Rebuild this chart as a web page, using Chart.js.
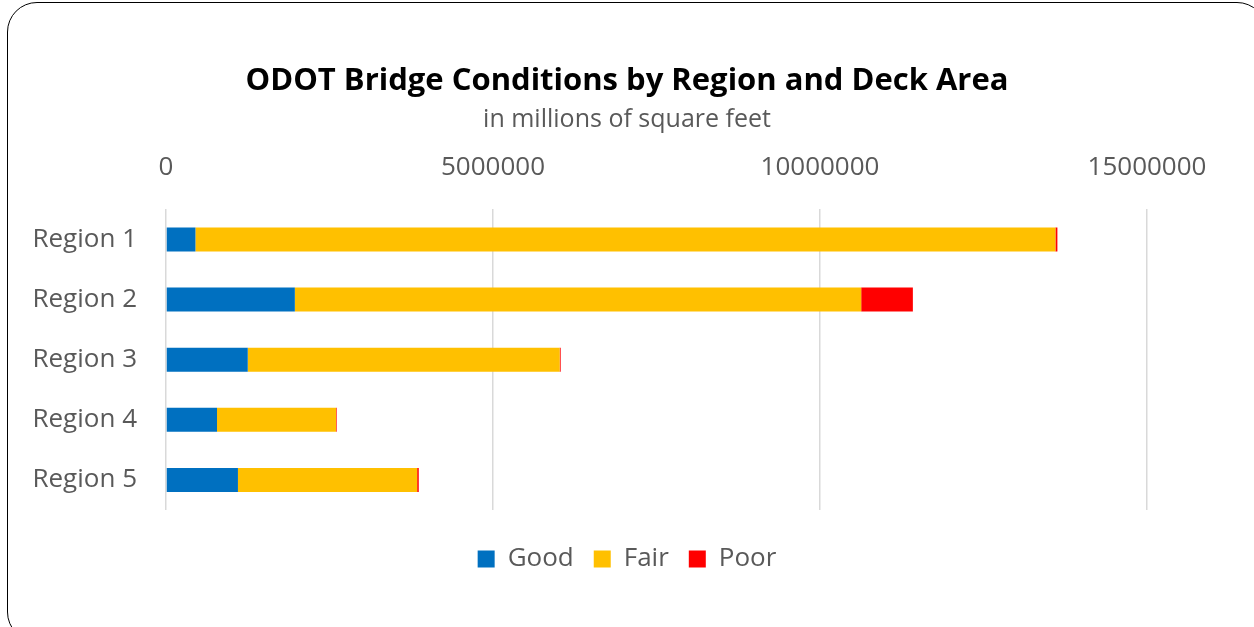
<!DOCTYPE html>
<html>
<head>
<meta charset="utf-8">
<script src="https://cdn.jsdelivr.net/npm/chart.js@4/dist/chart.umd.min.js"></script>
<style>
  html, body { margin: 0; padding: 0; background: #fff; overflow: hidden; }
  #frame {
    position: absolute; left: 7px; top: 2px; width: 1260px; height: 640px;
    border: 1.5px solid #000; border-radius: 30px; box-sizing: border-box;
  }
  #wrap { position: absolute; left: 0; top: 0; width: 1254px; height: 627px; }
</style>
</head>
<body>
<div id="frame"></div>
<div id="wrap"><canvas id="bridgeChart"></canvas></div>
<script>
// deck area by condition, square feet
const regions = ['Region 1', 'Region 2', 'Region 3', 'Region 4', 'Region 5'];
const good = [450000, 1970000, 1250000, 780000, 1100000];
const fair = [13150000, 8660000, 4770000, 1820000, 2740000];
const poor = [30000, 790000, 15000, 10000, 25000];

const font = '"Open Sans", "Noto Sans", sans-serif';
const grey = '#595959';

new Chart(document.getElementById('bridgeChart'), {
    type: 'bar',
    data: {
        labels: regions,
        datasets: [
            { label: 'Good', data: good, backgroundColor: '#0070C0', xAxisID: 'x', yAxisID: 'y' },
            { label: 'Fair', data: fair, backgroundColor: '#FFC000', xAxisID: 'x', yAxisID: 'y' },
            { label: 'Poor', data: poor, backgroundColor: '#FF0000', xAxisID: 'x', yAxisID: 'y' }
        ]
    },
    options: {
        indexAxis: 'y',
        responsive: true,
        maintainAspectRatio: false,
        animation: false,
        layout: { padding: { left: 0, right: 0, top: 63, bottom: 45 } },
        datasets: { bar: { barPercentage: 0.4, categoryPercentage: 1, borderWidth: 0 } },
        scales: {
            x: {
                position: 'top',
                stacked: true,
                min: 0,
                max: 15000000,
                ticks: {
                    stepSize: 5000000,
                    color: grey,
                    font: { family: font, size: 26 },
                    padding: 26,
                    callback: v => String(v)
                },
                grid: { color: '#d9d9d9', lineWidth: 1.5, drawTicks: false },
                border: { display: false },
                afterFit: s => { s.height = s.height - 9; }
            },
            y: {
                type: 'category',
                stacked: true,
                ticks: { color: grey, font: { family: font, size: 26 }, padding: 29 },
                grid: { display: false, drawTicks: false },
                border: { display: false },
                afterFit: s => { s.width = 166; }
            },
            // empty axes, only keep the plot area where the original has it
            gap: {
                axis: 'x',
                type: 'linear',
                position: 'bottom',
                grid: { display: false },
                ticks: { display: false },
                border: { display: false },
                afterFit: s => { s.height = 16; }
            },
            gapRight: {
                axis: 'y',
                type: 'linear',
                position: 'right',
                grid: { display: false },
                ticks: { display: false },
                border: { display: false },
                afterFit: s => { s.width = 107; }
            }
        },
        plugins: {
            title: {
                display: true,
                text: 'ODOT Bridge Conditions by Region and Deck Area',
                color: '#000',
                font: { family: font, size: 31, weight: 'bold' },
                padding: { top: 0, bottom: 5 }
            },
            subtitle: {
                display: true,
                text: 'in millions of square feet',
                color: grey,
                font: { family: font, size: 25 },
                padding: { top: 0, bottom: 0 }
            },
            legend: {
                position: 'bottom',
                labels: {
                    color: grey,
                    font: { family: font, size: 26 },
                    boxWidth: 17,
                    boxHeight: 17,
                    padding: 20
                }
            },
            tooltip: { enabled: false }
        }
    }
});
</script>
</body>
</html>
